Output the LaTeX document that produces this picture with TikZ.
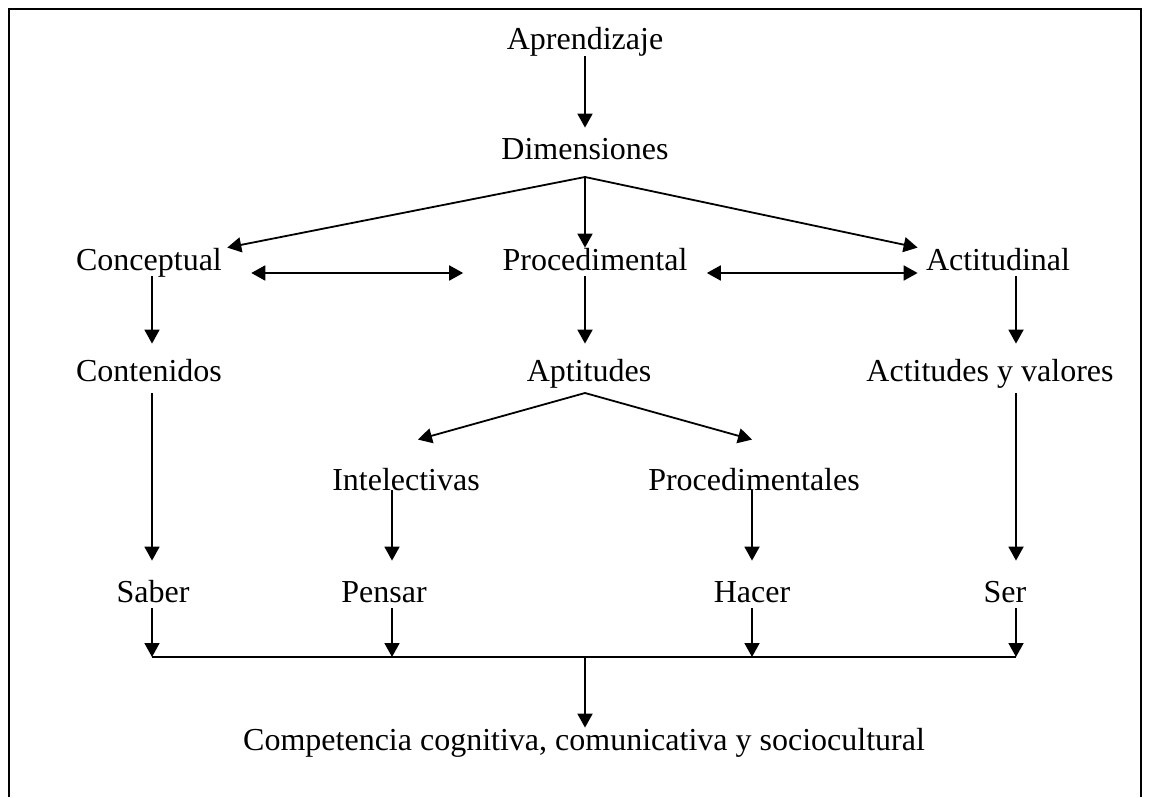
\documentclass[tikz,border=0pt]{standalone}
\usepackage{fontspec}
\setmainfont{Liberation Serif}
\usetikzlibrary{arrows.meta,positioning,calc}

\begin{document}
\begin{tikzpicture}[x=0.5pt,y=-0.5pt,
  lbl/.style={anchor=base,inner sep=0pt,text height=11pt,text depth=3pt,
              font=\fontsize{16}{19}\selectfont},
  arr/.style={-{Triangle[length=7pt,width=7.5pt]},line width=0.9pt},
  dbl/.style={{Triangle[length=7pt,width=7.5pt]}-{Triangle[length=7pt,width=7.5pt]},
              line width=0.9pt}]
  \useasboundingbox (0,0) rectangle (1150,797);
  \draw[line width=1pt] (9,797) -- (9,9) -- (1141,9) -- (1141,797);
  % columns and junctions
  \coordinate (colA) at (152,0);
  \coordinate (colB) at (392,0);
  \coordinate (colC) at (585,0);
  \coordinate (colD) at (752,0);
  \coordinate (colE) at (1016,0);
  \coordinate (dj) at (585,177);
  \coordinate (aj) at (585,393);
  \coordinate (bus) at (0,657);
  % labels
  \node[lbl] (apr) at (585,50) {Aprendizaje};
  \node[lbl] (dim) at (585,159) {Dimensiones};
  \node[lbl] (con) at (149,270) {Conceptual};
  \node[lbl] (pro) at (595,270) {Procedimental};
  \node[lbl] (act) at (998,270) {Actitudinal};
  \node[lbl] (cnt) at (149,381) {Contenidos};
  \node[lbl] (apt) at (589,381) {Aptitudes};
  \node[lbl] (acv) at (990,381) {Actitudes y valores};
  \node[lbl] (int) at (406,490) {Intelectivas};
  \node[lbl] (prs) at (754,490) {Procedimentales};
  \node[lbl] (sab) at (153,602) {Saber};
  \node[lbl] (pen) at (384,602) {Pensar};
  \node[lbl] (hac) at (752,602) {Hacer};
  \node[lbl] (ser) at (1005,602) {Ser};
  \node[lbl] (com) at (584,750) {Competencia cognitiva, comunicativa y sociocultural};
  % arrows
  \draw[arr,shorten >=4.5pt] (apr.south) -- (dim.north);
  \draw[arr] (dj) -- (pro.north -| colC);
  \draw[arr] (dj) -- ([xshift=2.5pt]con.north east);
  \draw[arr] (dj) -- ([xshift=-4pt]act.north west);
  \draw[dbl] ([xshift=14.5pt,yshift=-1.5pt]con.base east) -- ([xshift=-19.5pt,yshift=-1.5pt]pro.base west);
  \draw[dbl] ([xshift=9.5pt,yshift=-1.5pt]pro.base east) -- ([xshift=-4pt,yshift=-1.5pt]act.base west);
  \draw[arr,shorten >=7.5pt] (con.south -| colA) -- (cnt.north -| colA);
  \draw[arr,shorten >=7.5pt] (pro.south -| colC) -- (apt.north -| colC);
  \draw[arr,shorten >=7.5pt] (act.south -| colE) -- (acv.north -| colE);
  \draw[arr] (aj) -- ([xshift=6pt,yshift=14pt]int.north);
  \draw[arr] (aj) -- ([xshift=-1pt,yshift=14pt]prs.north);
  \draw[arr,shorten <=3pt,shorten >=9.5pt] (cnt.south -| colA) -- (sab.north -| colA);
  \draw[arr,shorten >=9.5pt] (int.base -| colB) -- (pen.north -| colB);
  \draw[arr,shorten >=9.5pt] (prs.base -| colD) -- (hac.north -| colD);
  \draw[arr,shorten <=3pt,shorten >=9.5pt] (acv.south -| colE) -- (ser.north -| colE);
  \foreach \n/\c in {sab/colA,pen/colB,hac/colD,ser/colE}
    \draw[arr] (\n.south -| \c) -- (bus -| \c);
  \draw[line width=0.9pt] (bus -| colA) -- (bus -| colE);
  \draw[arr] (bus -| colC) -- (com.north -| colC);
\end{tikzpicture}
\end{document}
